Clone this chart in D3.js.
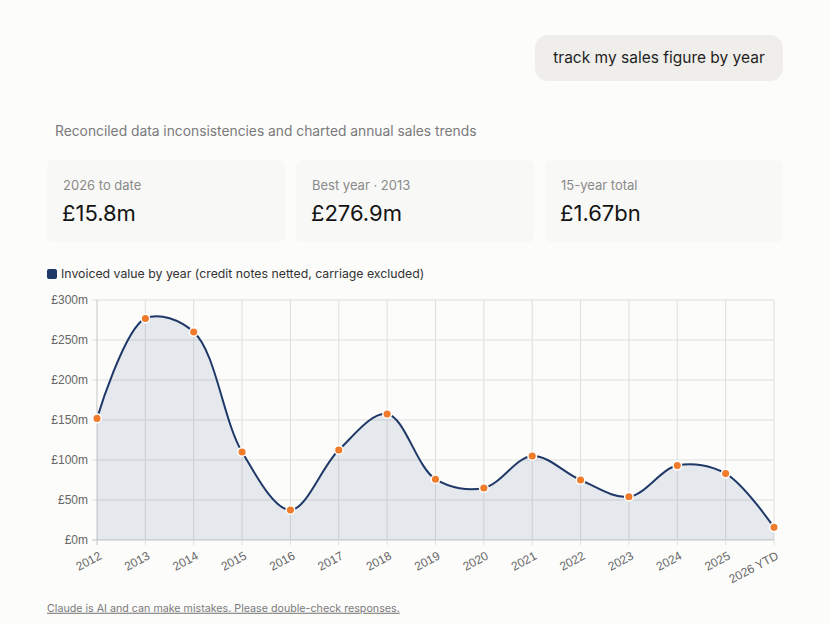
<!DOCTYPE html>
<html>
<head>
<meta charset="utf-8">
<script src="https://cdn.jsdelivr.net/npm/d3@7"></script>
<style>
	html, body { margin: 0; padding: 0; background: #fcfcfb; }
	svg { display: block; }
	.ui { font-family: Inter, "Open Sans", sans-serif; }
	.axis text { font-family: "Liberation Sans", Arial, sans-serif; font-size: 12px; fill: #666; }
</style>
</head>
<body>
<div id="chart"></div>
<script>
	// data
	var years = ["2012", "2013", "2014", "2015", "2016", "2017", "2018", "2019", "2020",
		"2021", "2022", "2023", "2024", "2025", "2026 YTD"];
	var sales = [152, 276.9, 260, 110, 37.5, 112.5, 157.5, 76, 65, 105, 75, 54, 93, 83, 15.8];
	var yTicks = [0, 50, 100, 150, 200, 250, 300];
	var cardLabels = ["2026 to date", "Best year \u00b7 2013", "15-year total"];
	var cardValues = ["\u00a315.8m", "\u00a3276.9m", "\u00a31.67bn"];

	var width = 830, height = 624;
	var margin = { top: 300, right: 56, bottom: 84, left: 97 };
	var plotW = width - margin.left - margin.right,
		plotH = height - margin.top - margin.bottom;

	var svg = d3.select("#chart")
		.append("svg")
			.attr("width", width)
			.attr("height", height);

	///////////////////////////////////////////////////////////////////////////
	//////////////////////// Chat bubble & header ////////////////////////////
	///////////////////////////////////////////////////////////////////////////

	svg.append("rect")
		.attr("x", 535).attr("y", 35)
		.attr("width", 248).attr("height", 46)
		.attr("rx", 13)
		.style("fill", "#f0eeeb");
	svg.append("text")
		.attr("class", "ui")
		.attr("x", 659).attr("y", 58)
		.attr("dy", "0.35em")
		.style("text-anchor", "middle")
		.style("font-size", "15.5px")
		.style("fill", "#1f1f1f")
		.text("track my sales figure by year");

	svg.append("text")
		.attr("class", "ui")
		.attr("x", 55).attr("y", 131)
		.attr("dy", "0.35em")
		.style("font-size", "13.8px")
		.style("fill", "#7a7a7a")
		.text("Reconciled data inconsistencies and charted annual sales trends");

	//Stat cards
	var cards = svg.selectAll(".card")
		.data(cardLabels)
		.enter().append("g")
		.attr("class", "card")
		.attr("transform", function(d, i) { return "translate(" + (47 + i * 249) + ",160)"; });
	cards.append("rect")
		.attr("width", 238).attr("height", 82)
		.attr("rx", 6)
		.style("fill", "#f8f8f6");
	cards.append("text")
		.attr("class", "ui")
		.attr("x", 16).attr("y", 25)
		.attr("dy", "0.35em")
		.style("font-size", "13px")
		.style("fill", "#8a8a8a")
		.text(function(d) { return d; });
	cards.append("text")
		.attr("class", "ui")
		.attr("x", 15).attr("y", 53)
		.attr("dy", "0.35em")
		.style("font-size", "22px")
		.style("fill", "#141414")
		.text(function(d, i) { return cardValues[i]; });

	//Legend
	svg.append("rect")
		.attr("x", 47).attr("y", 269)
		.attr("width", 10).attr("height", 10)
		.attr("rx", 2)
		.style("fill", "#1e3867");
	svg.append("text")
		.attr("class", "ui")
		.attr("x", 61).attr("y", 274)
		.attr("dy", "0.35em")
		.style("font-size", "12.3px")
		.style("fill", "#333")
		.text("Invoiced value by year (credit notes netted, carriage excluded)");

	///////////////////////////////////////////////////////////////////////////
	///////////////////////////// Line chart /////////////////////////////////
	///////////////////////////////////////////////////////////////////////////

	var g = svg.append("g")
		.attr("transform", "translate(" + margin.left + "," + margin.top + ")");

	var x = d3.scalePoint().domain(years).range([0, plotW]);
	var y = d3.scaleLinear().domain([0, 300]).range([plotH, 0]);

	//Grid
	g.append("g")
		.selectAll("line")
		.data(yTicks)
		.enter().append("line")
		.attr("x1", -5).attr("x2", plotW)
		.attr("y1", function(d) { return y(d); })
		.attr("y2", function(d) { return y(d); })
		.style("stroke", function(d) { return d === 0 ? "#c4c4c4" : "#dedede"; })
		.style("stroke-width", 1);
	g.append("g")
		.selectAll("line")
		.data(years)
		.enter().append("line")
		.attr("x1", function(d) { return x(d); })
		.attr("x2", function(d) { return x(d); })
		.attr("y1", 0).attr("y2", plotH + 5)
		.style("stroke", function(d, i) { return i === 0 ? "#c4c4c4" : "#dedede"; })
		.style("stroke-width", 1);

	//Y axis labels
	g.append("g")
		.attr("class", "axis")
		.selectAll("text")
		.data(yTicks)
		.enter().append("text")
		.attr("x", -9)
		.attr("y", function(d) { return y(d); })
		.attr("dy", "0.35em")
		.style("text-anchor", "end")
		.text(function(d) { return "\u00a3" + d + "m"; });

	//X axis labels
	g.append("g")
		.attr("class", "axis")
		.selectAll("text")
		.data(years)
		.enter().append("text")
		.attr("transform", function(d) { return "translate(" + (x(d) + 2) + "," + (plotH + 12) + ") rotate(-28)"; })
		.attr("dy", "0.6em")
		.style("text-anchor", "end")
		.text(function(d) { return d; });

	var curve = d3.curveCatmullRom.alpha(0.5);

	var area = d3.area()
		.x(function(d, i) { return x(years[i]); })
		.y0(plotH)
		.y1(function(d) { return y(d); })
		.curve(curve);
	var line = d3.line()
		.x(function(d, i) { return x(years[i]); })
		.y(function(d) { return y(d); })
		.curve(curve);

	g.append("path")
		.datum(sales)
		.attr("d", area)
		.style("fill", "#1e3867")
		.style("fill-opacity", 0.1);
	g.append("path")
		.datum(sales)
		.attr("d", line)
		.style("fill", "none")
		.style("stroke", "#1e3867")
		.style("stroke-width", 2);

	g.selectAll(".dot")
		.data(sales)
		.enter().append("circle")
		.attr("class", "dot")
		.attr("cx", function(d, i) { return x(years[i]); })
		.attr("cy", function(d) { return y(d); })
		.attr("r", 4.3)
		.style("fill", "#ef7b2b")
		.style("stroke", "#fff")
		.style("stroke-width", 1.5);

	//Footer
	svg.append("text")
		.attr("class", "ui")
		.attr("x", 47).attr("y", 608)
		.attr("dy", "0.35em")
		.style("font-size", "10.7px")
		.style("fill", "#7a7a7a")
		.style("text-decoration", "underline")
		.text("Claude is AI and can make mistakes. Please double-check responses.");
</script>
</body>
</html>
